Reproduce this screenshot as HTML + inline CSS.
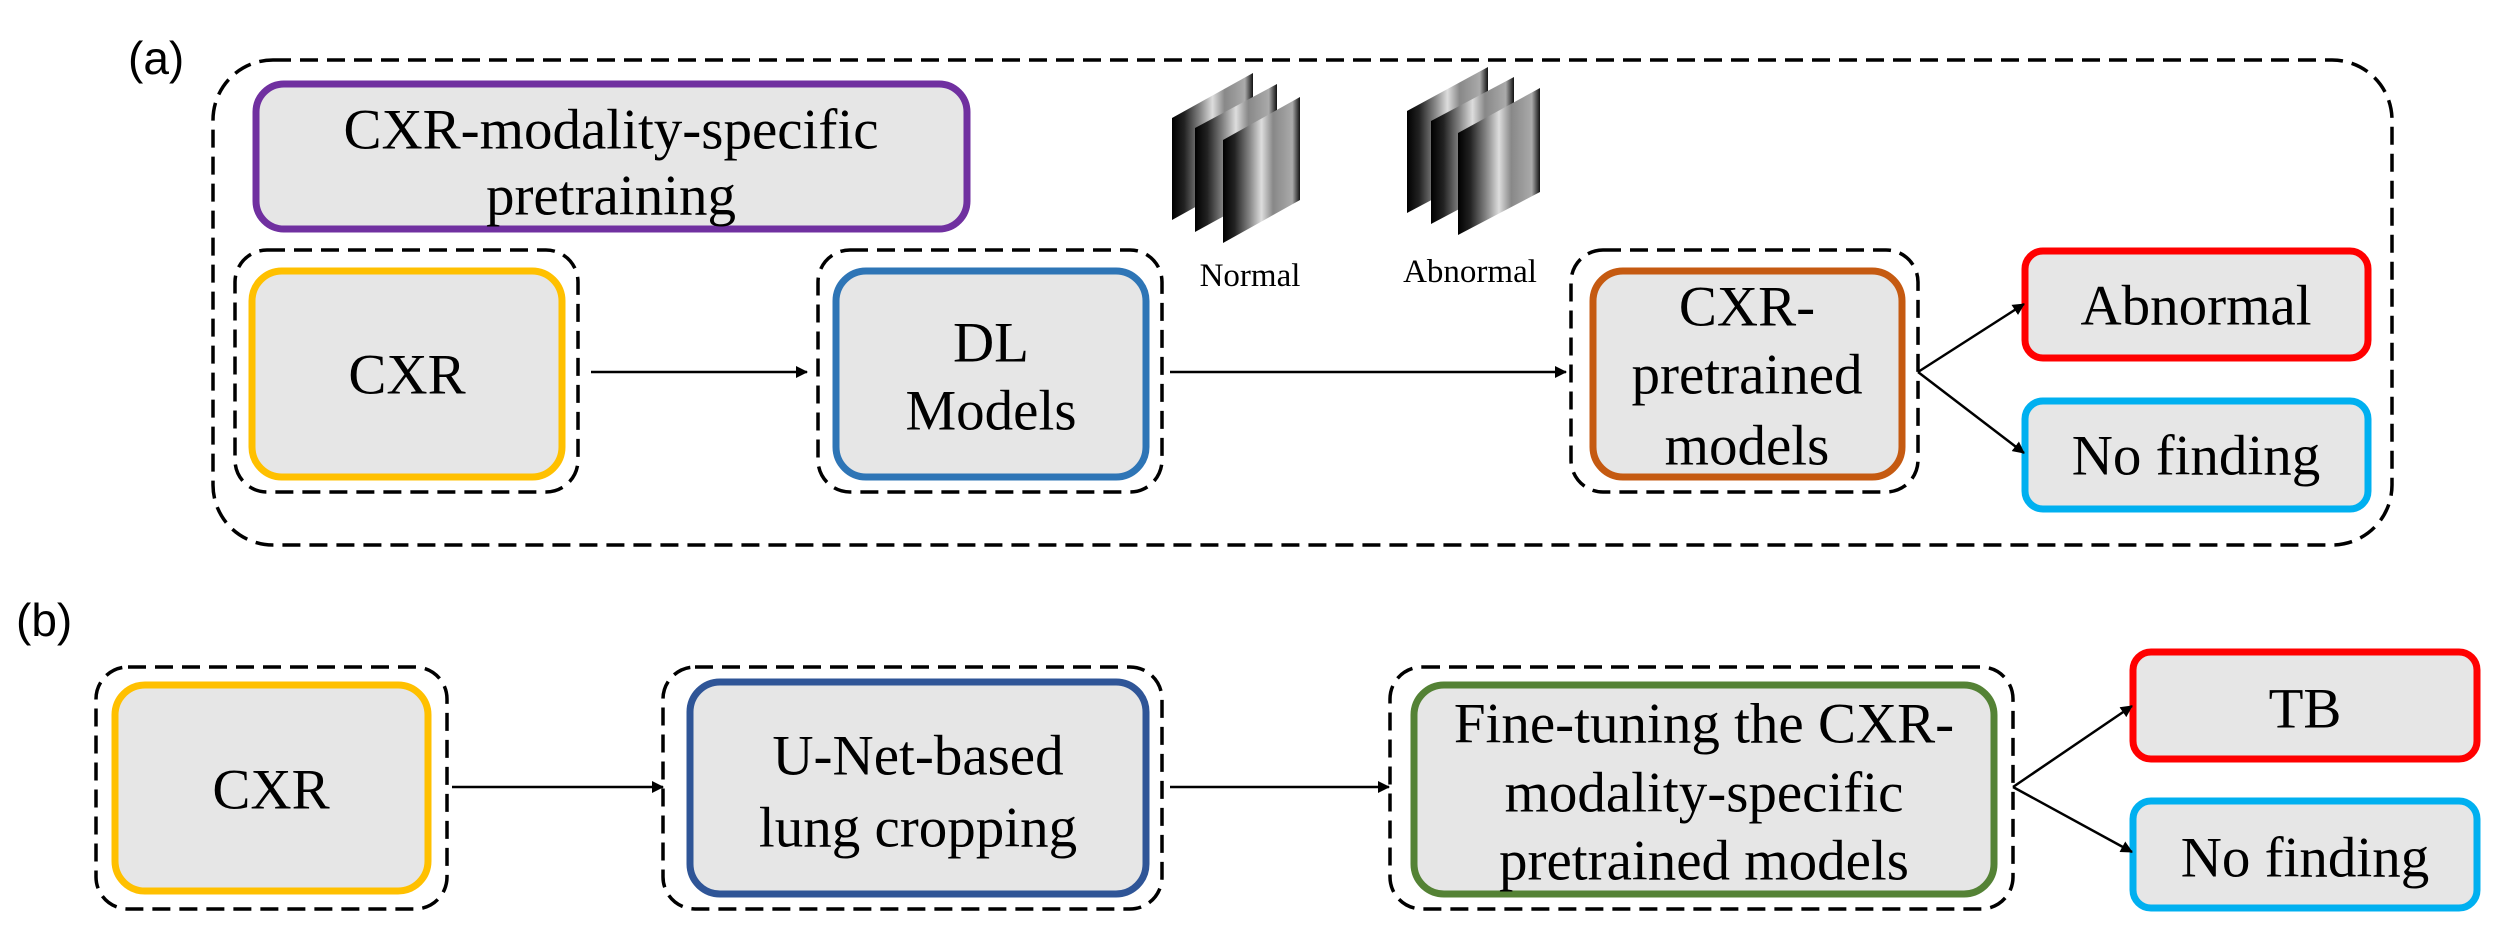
<!DOCTYPE html>
<html><head><meta charset="utf-8"><style>
html,body{margin:0;padding:0;background:#fff;}
svg{display:block;}
.t{font-family:"Liberation Serif",serif;font-size:57px;fill:#000;text-anchor:middle;dominant-baseline:central;}
.s{font-family:"Liberation Serif",serif;font-size:33px;fill:#000;text-anchor:middle;dominant-baseline:central;}
.l{font-family:"Liberation Sans",sans-serif;font-size:46px;fill:#000;dominant-baseline:central;}
.d{fill:none;stroke:#000;stroke-width:3.5;stroke-dasharray:18 9;}
.b{fill:#e6e6e6;stroke-width:7;}
.a{stroke:#000;stroke-width:2.5;fill:none;}
</style></head><body>
<svg width="2506" height="935" viewBox="0 0 2506 935" xmlns="http://www.w3.org/2000/svg">
<defs>
<marker id="ar" markerWidth="12" markerHeight="12" refX="11" refY="6" orient="auto" markerUnits="userSpaceOnUse">
<path d="M0,0 L12,6 L0,12 z" fill="#000"/></marker>
<linearGradient id="g" x1="0" x2="1" y1="0" y2="0">
<stop offset="0" stop-color="#000"/><stop offset="0.15" stop-color="#222"/><stop offset="0.35" stop-color="#888"/><stop offset="0.5" stop-color="#ddd"/><stop offset="0.65" stop-color="#888"/><stop offset="0.9" stop-color="#aaa"/><stop offset="1" stop-color="#111"/></linearGradient>
</defs>
<text class="l" x="128" y="58">(a)</text>
<text class="l" x="16" y="620">(b)</text>

<rect class="d" x="213" y="60" width="2179" height="485" rx="60"/>
<rect class="b" stroke="#7030a0" x="256" y="84" width="711" height="145" rx="28"/>
<text class="t" x="611" y="130">CXR-modality-specific</text>
<text class="t" x="611" y="196">pretraining</text>

<!-- xray stacks -->
<g>
<polygon points="1172,118 1253,73 1253,175 1172,220" fill="url(#g)"/>
<polygon points="1195,128 1277,84 1277,187 1195,232" fill="url(#g)"/>
<polygon points="1223,140 1300,97 1300,200 1223,243" fill="url(#g)"/>
<polygon points="1407,111 1488,67 1488,170 1407,213" fill="url(#g)"/>
<polygon points="1431,121 1514,77 1514,180 1431,224" fill="url(#g)"/>
<polygon points="1458,133 1540,88 1540,192 1458,235" fill="url(#g)"/>
</g>
<text class="s" x="1250" y="276">Normal</text>
<text class="s" x="1470" y="272">Abnormal</text>

<rect class="d" x="235" y="250" width="343" height="242" rx="32"/>
<rect class="b" stroke="#ffc000" x="252" y="271" width="310" height="206" rx="30"/>
<text class="t" x="407" y="375">CXR</text>

<rect class="d" x="818" y="250" width="344" height="242" rx="32"/>
<rect class="b" stroke="#2e75b6" x="836" y="271" width="310" height="206" rx="30"/>
<text class="t" x="991" y="343">DL</text>
<text class="t" x="991" y="411">Models</text>

<rect class="d" x="1571" y="250" width="347" height="242" rx="32"/>
<rect class="b" stroke="#c55a11" x="1593" y="271" width="309" height="206" rx="30"/>
<text class="t" x="1747" y="307">CXR-</text>
<text class="t" x="1747" y="375">pretrained</text>
<text class="t" x="1747" y="446">models</text>

<rect class="b" stroke="#ff0000" x="2025" y="251" width="343" height="107" rx="18"/>
<text class="t" x="2196" y="306">Abnormal</text>
<rect class="b" stroke="#00b0f0" x="2025" y="401" width="343" height="108" rx="18"/>
<text class="t" x="2196" y="456">No finding</text>

<line class="a" x1="591" y1="372" x2="807" y2="372" marker-end="url(#ar)"/>
<line class="a" x1="1170" y1="372" x2="1566" y2="372" marker-end="url(#ar)"/>
<line class="a" x1="1918" y1="372" x2="2024" y2="304" marker-end="url(#ar)"/>
<line class="a" x1="1918" y1="372" x2="2024" y2="453" marker-end="url(#ar)"/>

<!-- b -->
<rect class="d" x="96" y="667" width="351" height="242" rx="32"/>
<rect class="b" stroke="#ffc000" x="115" y="685" width="313" height="206" rx="30"/>
<text class="t" x="271" y="790">CXR</text>

<rect class="d" x="663" y="667" width="499" height="242" rx="32"/>
<rect class="b" stroke="#2f5597" x="690" y="682" width="456" height="212" rx="30"/>
<text class="t" x="918" y="756">U-Net-based</text>
<text class="t" x="918" y="828">lung cropping</text>

<rect class="d" x="1390" y="667" width="623" height="242" rx="32"/>
<rect class="b" stroke="#548235" x="1414" y="685" width="580" height="209" rx="30"/>
<text class="t" x="1704" y="724">Fine-tuning the CXR-</text>
<text class="t" x="1704" y="793">modality-specific</text>
<text class="t" x="1704" y="861">pretrained models</text>

<rect class="b" stroke="#ff0000" x="2133" y="652" width="344" height="107" rx="18"/>
<text class="t" x="2305" y="709">TB</text>
<rect class="b" stroke="#00b0f0" x="2133" y="801" width="344" height="107" rx="18"/>
<text class="t" x="2305" y="858">No finding</text>

<line class="a" x1="452" y1="787" x2="663" y2="787" marker-end="url(#ar)"/>
<line class="a" x1="1170" y1="787" x2="1389" y2="787" marker-end="url(#ar)"/>
<line class="a" x1="2013" y1="787" x2="2132" y2="706" marker-end="url(#ar)"/>
<line class="a" x1="2013" y1="787" x2="2132" y2="852" marker-end="url(#ar)"/>
</svg>
</body></html>
